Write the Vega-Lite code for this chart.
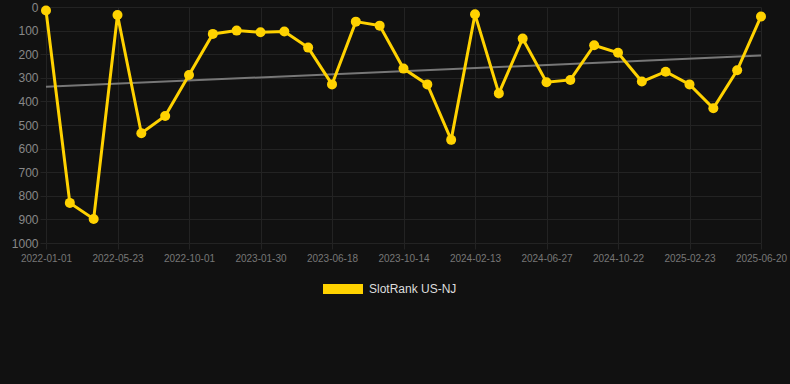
{
  "$schema": "https://vega.github.io/schema/vega-lite/v6.json",
  "width": 715,
  "height": 236,
  "autosize": {"type": "none"},
  "padding": {"left": 46, "top": 7, "right": 29, "bottom": 141},
  "background": "#111111",
  "config": {
    "view": {"stroke": null},
    "font": "Liberation Sans",
    "axis": {"domain": false, "gridColor": "#232323", "tickColor": "#232323", "gridWidth": 1, "tickSize": 6, "title": null}
  },
  "datasets": {
    "rank": [
      {"date": "2022-01-01", "series": "SlotRank US-NJ", "rank": 15},
      {"date": "2022-02-17", "series": "SlotRank US-NJ", "rank": 830},
      {"date": "2022-04-05", "series": "SlotRank US-NJ", "rank": 898},
      {"date": "2022-05-23", "series": "SlotRank US-NJ", "rank": 34},
      {"date": "2022-07-06", "series": "SlotRank US-NJ", "rank": 535},
      {"date": "2022-08-19", "series": "SlotRank US-NJ", "rank": 462},
      {"date": "2022-10-01", "series": "SlotRank US-NJ", "rank": 288},
      {"date": "2022-11-10", "series": "SlotRank US-NJ", "rank": 114},
      {"date": "2022-12-20", "series": "SlotRank US-NJ", "rank": 100},
      {"date": "2023-01-30", "series": "SlotRank US-NJ", "rank": 107},
      {"date": "2023-03-17", "series": "SlotRank US-NJ", "rank": 104},
      {"date": "2023-05-02", "series": "SlotRank US-NJ", "rank": 172},
      {"date": "2023-06-18", "series": "SlotRank US-NJ", "rank": 328},
      {"date": "2023-07-27", "series": "SlotRank US-NJ", "rank": 62},
      {"date": "2023-09-04", "series": "SlotRank US-NJ", "rank": 79},
      {"date": "2023-10-14", "series": "SlotRank US-NJ", "rank": 261},
      {"date": "2023-11-24", "series": "SlotRank US-NJ", "rank": 328},
      {"date": "2024-01-03", "series": "SlotRank US-NJ", "rank": 563},
      {"date": "2024-02-13", "series": "SlotRank US-NJ", "rank": 31},
      {"date": "2024-03-29", "series": "SlotRank US-NJ", "rank": 366},
      {"date": "2024-05-13", "series": "SlotRank US-NJ", "rank": 134},
      {"date": "2024-06-27", "series": "SlotRank US-NJ", "rank": 319},
      {"date": "2024-08-05", "series": "SlotRank US-NJ", "rank": 309},
      {"date": "2024-09-13", "series": "SlotRank US-NJ", "rank": 162},
      {"date": "2024-10-22", "series": "SlotRank US-NJ", "rank": 194},
      {"date": "2024-12-02", "series": "SlotRank US-NJ", "rank": 316},
      {"date": "2025-01-12", "series": "SlotRank US-NJ", "rank": 274},
      {"date": "2025-02-23", "series": "SlotRank US-NJ", "rank": 328},
      {"date": "2025-04-03", "series": "SlotRank US-NJ", "rank": 429},
      {"date": "2025-05-12", "series": "SlotRank US-NJ", "rank": 268},
      {"date": "2025-06-20", "series": "SlotRank US-NJ", "rank": 40}
    ],
    "trend": [
      {"date": "2022-01-01", "rank": 338},
      {"date": "2025-06-20", "rank": 206}
    ]
  },
  "encoding": {
    "x": {
      "field": "date",
      "type": "ordinal",
      "sort": "ascending",
      "scale": {"type": "point", "padding": 0},
      "axis": {
        "values": ["2022-01-01", "2022-05-23", "2022-10-01", "2023-01-30", "2023-06-18", "2023-10-14", "2024-02-13", "2024-06-27", "2024-10-22", "2025-02-23", "2025-06-20"],
        "labelAngle": 0,
        "labelFontSize": 10,
        "labelColor": "#777777",
        "labelPadding": 4,
        "grid": true
      }
    },
    "y": {
      "field": "rank",
      "type": "quantitative",
      "scale": {"domain": [0, 1000], "reverse": true, "nice": false},
      "axis": {
        "values": [0, 100, 200, 300, 400, 500, 600, 700, 800, 900, 1000],
        "format": "d",
        "labelFontSize": 12,
        "labelColor": "#888888",
        "labelPadding": 2,
        "tickSize": 6
      }
    }
  },
  "layer": [
    {
      "data": {"name": "trend"},
      "mark": {"type": "line", "color": "#777777", "strokeWidth": 2}
    },
    {
      "data": {"name": "rank"},
      "mark": {"type": "line", "strokeWidth": 3, "strokeJoin": "miter", "point": {"size": 100, "filled": true, "opacity": 1}},
      "encoding": {
        "color": {
          "field": "series",
          "type": "nominal",
          "scale": {"range": ["#FFD200"]},
          "legend": {
            "title": null,
            "orient": "none",
            "legendX": 287,
            "legendY": 272,
            "direction": "horizontal",
            "symbolType": "M-2,-0.5H2V0.5H-2Z",
            "symbolSize": 400,
            "symbolStrokeWidth": 0,
            "symbolOpacity": 1,
            "labelOffset": 16,
            "labelColor": "#dddddd",
            "labelFontSize": 12,
            "labelFont": "Liberation Sans"
          }
        }
      }
    }
  ]
}
